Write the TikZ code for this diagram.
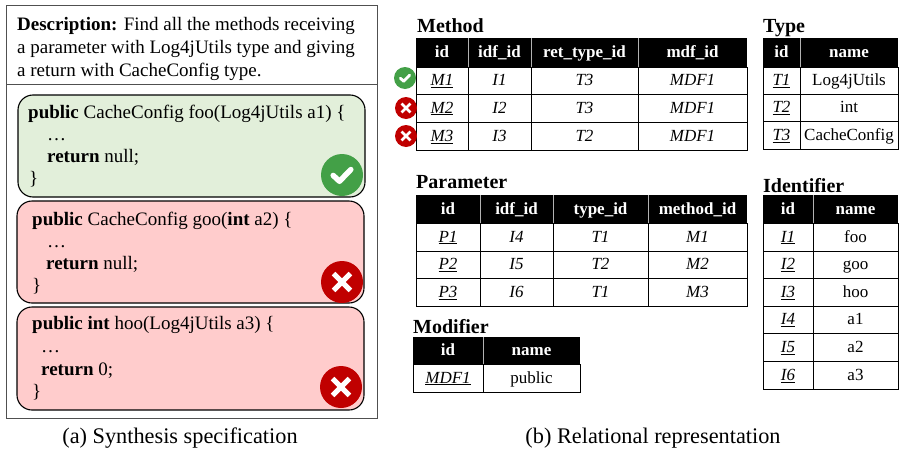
\documentclass[tikz,border=0pt]{standalone}
\usepackage{fontspec}
\setmainfont{Liberation Serif}
\definecolor{okgreen}{HTML}{43A047}
\definecolor{nored}{HTML}{C00000}
\definecolor{boxgreen}{HTML}{E2EFDA}
\definecolor{boxred}{HTML}{FFCCCC}
\definecolor{frame}{HTML}{505050}
\newcommand\idu[1]{\underline{\textit{#1}}}
\newcommand\myok[3]{%
  \node[circle, fill=okgreen, minimum size=#3*2, inner sep=0pt] (#1) at (#2) {};
  \begin{scope}[shift={(#2)}]
    \draw[white, line width=#3*0.26, line cap=round, line join=round]
      (-0.42*#3,0.02*#3) -- (-0.12*#3,0.3*#3) -- (0.42*#3,-0.26*#3);
  \end{scope}}
\newcommand\myno[3]{%
  \node[circle, fill=nored, minimum size=#3*2, inner sep=0pt] (#1) at (#2) {};
  \begin{scope}[shift={(#2)}]
    \draw[white, line width=#3*0.24]
      (-0.4*#3,-0.4*#3) -- (0.4*#3,0.4*#3) (-0.4*#3,0.4*#3) -- (0.4*#3,-0.4*#3);
  \end{scope}}
\begin{document}
\begin{tikzpicture}[x=1pt,y=-1pt,
  desc/.style={anchor=base west, inner sep=0pt, font=\fontsize{19}{23}\selectfont},
  code/.style={anchor=base west, inner sep=0pt, font=\fontsize{19}{23}\selectfont},
  captxt/.style={anchor=base, inner sep=0pt, font=\fontsize{22.3}{26}\selectfont},
  ttl/.style={anchor=base west, inner sep=0pt, font=\fontsize{20}{24}\selectfont\bfseries},
  hd/.style={inner sep=0pt, text height=10.5pt, text depth=0pt, text=white, font=\fontsize{17}{20}\selectfont\bfseries},
  cell/.style={inner sep=0pt, text height=10.5pt, text depth=0pt, font=\fontsize{17}{20}\selectfont},
  tbl/.style={draw=black, line width=0.9pt},
  hsep/.style={draw=gray!60, line width=0.6pt},
  codebox/.style={draw=black, line width=1.1pt, rounded corners=15pt}]
\useasboundingbox (0,0) rectangle (901,455);
% ---------------- left panel ----------------
\draw[frame, line width=1pt] (6,5) rectangle (377,418);
\draw[frame, line width=1pt] (6,84) -- (377,84);
\node[desc] (d1) at (17,30) {\textbf{Description:} Find all the methods receiving};
\node[desc] (d2) at (17,53) {a parameter with Log4jUtils type and giving};
\node[desc] (d3) at (17,76) {a return with CacheConfig type.};
% box 1
\filldraw[codebox, fill=boxgreen] (18,95) rectangle (365,197);
\node[code] (c11) at (28,118) {\textbf{public} CacheConfig foo(Log4jUtils a1) \{};
\node[code] (c12) at (47,140) {\dots};
\node[code] (c13) at (47,162) {\textbf{return} null;};
\node[code] (c14) at (29,184) {\}};
\myok{ok1}{342,175}{21}
% box 2
\filldraw[codebox, fill=boxred] (17,201) rectangle (364,303);
\node[code] (c21) at (32,225) {\textbf{public} CacheConfig goo(\textbf{int} a2) \{};
\node[code] (c22) at (47,247) {\dots};
\node[code] (c23) at (46,269) {\textbf{return} null;};
\node[code] (c24) at (32,291) {\}};
\myno{no1}{342,282}{21}
% box 3
\filldraw[codebox, fill=boxred] (17,307) rectangle (364,410);
\node[code] (c31) at (32,329) {\textbf{public int} hoo(Log4jUtils a3) \{};
\node[code] (c32) at (41,352) {\dots};
\node[code] (c33) at (41,375) {\textbf{return} 0;};
\node[code] (c34) at (32,397) {\}};
\myno{no2}{341,387}{21}
\node[captxt] (capa) at (180,443) {(a) Synthesis specification};
% ---------------- Method ----------------
\node[ttl] (tm) at (417,32) {Method};
\fill[black] (416,38) rectangle (747,67);
\foreach \x in {468,531,638} \draw[hsep] (\x,38) -- (\x,67);
\draw[tbl] (416,67) rectangle (747,150);
\foreach \y in {94,122} \draw[tbl] (416,\y) -- (747,\y);
\foreach \x in {468,531,638} \draw[tbl] (\x,67) -- (\x,150);
\node[hd] (mh1) at (442,52.5) {id};
\node[hd] (mh2) at (499.5,52.5) {idf\_id};
\node[hd] (mh3) at (584.5,52.5) {ret\_type\_id};
\node[hd] (mh4) at (692.5,52.5) {mdf\_id};
\node[cell] (m11) at (442,80.5) {\idu{M1}};
\node[cell] (m12) at (499.5,80.5) {\textit{I1}};
\node[cell] (m13) at (584.5,80.5) {\textit{T3}};
\node[cell] (m14) at (692.5,80.5) {\textit{MDF1}};
\node[cell] (m21) at (442,108) {\idu{M2}};
\node[cell] (m22) at (499.5,108) {\textit{I2}};
\node[cell] (m23) at (584.5,108) {\textit{T3}};
\node[cell] (m24) at (692.5,108) {\textit{MDF1}};
\node[cell] (m31) at (442,136) {\idu{M3}};
\node[cell] (m32) at (499.5,136) {\textit{I3}};
\node[cell] (m33) at (584.5,136) {\textit{T2}};
\node[cell] (m34) at (692.5,136) {\textit{MDF1}};
\myok{mok}{405,78}{11}
\myno{mno1}{406,108}{11}
\myno{mno2}{406,136}{11}
% ---------------- Type ----------------
\node[ttl] (tt) at (763,32) {Type};
\fill[black] (763,38) rectangle (898,67);
\draw[hsep] (800,38) -- (800,67);
\draw[tbl] (763,67) rectangle (898,149);
\foreach \y in {94,121} \draw[tbl] (763,\y) -- (898,\y);
\draw[tbl] (800,67) -- (800,149);
\node[hd] (th1) at (781.5,52.5) {id};
\node[hd] (th2) at (849,52.5) {name};
\node[cell] (t11) at (781.5,80.5) {\idu{T1}};
\node[cell] (t12) at (849,80.5) {Log4jUtils};
\node[cell] (t21) at (781.5,107.5) {\idu{T2}};
\node[cell] (t22) at (849,107.5) {int};
\node[cell] (t31) at (781.5,135) {\idu{T3}};
\node[cell] (t32) at (849,135) {CacheConfig};
% ---------------- Parameter ----------------
\node[ttl] (tp) at (416,188) {Parameter};
\fill[black] (416,195) rectangle (747,223);
\foreach \x in {480,553,648} \draw[hsep] (\x,195) -- (\x,223);
\draw[tbl] (416,223) rectangle (747,306);
\foreach \y in {251,278} \draw[tbl] (416,\y) -- (747,\y);
\foreach \x in {480,553,648} \draw[tbl] (\x,223) -- (\x,306);
\node[hd] (ph1) at (448,209) {id};
\node[hd] (ph2) at (516.5,209) {idf\_id};
\node[hd] (ph3) at (600.5,209) {type\_id};
\node[hd] (ph4) at (697.5,209) {method\_id};
\node[cell] (p11) at (448,237) {\idu{P1}};
\node[cell] (p12) at (516.5,237) {\textit{I4}};
\node[cell] (p13) at (600.5,237) {\textit{T1}};
\node[cell] (p14) at (697.5,237) {\textit{M1}};
\node[cell] (p21) at (448,264.5) {\idu{P2}};
\node[cell] (p22) at (516.5,264.5) {\textit{I5}};
\node[cell] (p23) at (600.5,264.5) {\textit{T2}};
\node[cell] (p24) at (697.5,264.5) {\textit{M2}};
\node[cell] (p31) at (448,292) {\idu{P3}};
\node[cell] (p32) at (516.5,292) {\textit{I6}};
\node[cell] (p33) at (600.5,292) {\textit{T1}};
\node[cell] (p34) at (697.5,292) {\textit{M3}};
% ---------------- Modifier ----------------
\node[ttl] (tmo) at (413,333) {Modifier};
\fill[black] (413,337) rectangle (580,364);
\draw[hsep] (483,337) -- (483,364);
\draw[tbl] (413,364) rectangle (580,392);
\draw[tbl] (483,364) -- (483,392);
\node[hd] (moh1) at (448,350.5) {id};
\node[hd] (moh2) at (531.5,350.5) {name};
\node[cell] (mo11) at (448,378) {\idu{MDF1}};
\node[cell] (mo12) at (531.5,378) {public};
% ---------------- Identifier ----------------
\node[ttl] (ti) at (763,192) {Identifier};
\fill[black] (763,195) rectangle (898,223);
\draw[hsep] (813,195) -- (813,223);
\draw[tbl] (763,223) rectangle (898,389);
\foreach \y in {251,278,306,333,361} \draw[tbl] (763,\y) -- (898,\y);
\draw[tbl] (813,223) -- (813,389);
\node[hd] (ih1) at (788,209) {id};
\node[hd] (ih2) at (855.5,209) {name};
\node[cell] (i11) at (788,237) {\idu{I1}};
\node[cell] (i12) at (855.5,237) {foo};
\node[cell] (i21) at (788,264.5) {\idu{I2}};
\node[cell] (i22) at (855.5,264.5) {goo};
\node[cell] (i31) at (788,292) {\idu{I3}};
\node[cell] (i32) at (855.5,292) {hoo};
\node[cell] (i41) at (788,319.5) {\idu{I4}};
\node[cell] (i42) at (855.5,319.5) {a1};
\node[cell] (i51) at (788,347) {\idu{I5}};
\node[cell] (i52) at (855.5,347) {a2};
\node[cell] (i61) at (788,375) {\idu{I6}};
\node[cell] (i62) at (855.5,375) {a3};
\node[captxt] (capb) at (653,443) {(b) Relational representation};
\end{tikzpicture}
\end{document}
